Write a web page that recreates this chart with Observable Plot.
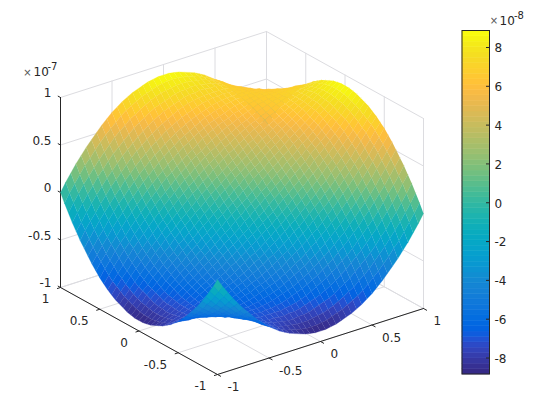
<!DOCTYPE html>
<html>
<head>
<meta charset="utf-8">
<script src="https://cdn.jsdelivr.net/npm/d3@7"></script>
<script src="https://cdn.jsdelivr.net/npm/@observablehq/plot@0.6"></script>
<style>html,body{margin:0;padding:0;background:#fff}</style>
</head>
<body>
<div id="chart"></div>
<script>
// Axis ticks
const xTicks = [-1,-0.5,0,0.5,1];
const yTicks = [-1,-0.5,0,0.5,1];
const zTicks = [-1,-0.5,0,0.5,1];
const barTicks = [-8,-6,-4,-2,0,2,4,6,8];
// Grid coordinates of the surface
const gridXs = [-1,-0.95,-0.9,-0.85,-0.8,-0.75,-0.7,-0.65,-0.6,-0.55,-0.5,-0.45,-0.4,-0.35,-0.3,-0.25,-0.2,-0.15,-0.1,-0.05,0,0.05,0.1,0.15,0.2,0.25,0.3,0.35,0.4,0.45,0.5,0.55,0.6,0.65,0.7,0.75,0.8,0.85,0.9,0.95,1];
const gridYs = [1,0.95,0.9,0.85,0.8,0.75,0.7,0.65,0.6,0.55,0.5,0.45,0.4,0.35,0.3,0.25,0.2,0.15,0.1,0.05,0,-0.05,-0.1,-0.15,-0.2,-0.25,-0.3,-0.35,-0.4,-0.45,-0.5,-0.55,-0.6,-0.65,-0.7,-0.75,-0.8,-0.85,-0.9,-0.95,-1];
// Height estimates in units of 1e-9; rows run along gridYs, columns along gridXs
const zGrid = [
[0,9,17,25,32,39,45,51,57,62,67,71,75,78,81,83,85,87,88,89,89,89,88,87,85,83,81,78,75,71,67,62,57,51,45,39,32,25,17,9,0],
[-9,0,8,16,24,30,37,43,49,54,59,64,68,71,74,77,79,81,83,84,85,85,85,84,83,81,80,77,74,71,68,64,59,54,49,44,37,31,24,17,9],
[-17,-8,0,8,15,22,29,35,41,47,52,56,61,64,68,71,74,76,78,79,80,81,81,81,80,79,78,76,74,71,69,65,61,57,53,48,42,37,30,24,17],
[-25,-16,-8,0,7,15,21,28,34,39,44,49,54,58,61,65,68,70,72,74,76,77,77,78,78,77,76,75,73,71,69,66,63,60,56,52,47,42,37,31,25],
[-32,-24,-15,-7,0,7,14,20,26,32,37,42,47,51,55,59,62,65,67,69,71,73,74,74,75,75,74,74,73,71,69,67,65,62,59,55,51,47,42,37,32],
[-39,-30,-22,-15,-7,0,7,13,19,25,31,36,40,45,49,53,56,59,62,65,67,69,70,71,72,72,72,72,72,71,70,68,66,64,61,58,55,52,48,44,39],
[-45,-37,-29,-21,-14,-7,0,6,13,18,24,29,34,39,43,47,51,54,57,60,62,64,66,68,69,70,70,71,70,70,69,68,67,65,64,61,59,56,53,49,45],
[-51,-43,-35,-28,-20,-13,-6,0,6,12,18,23,28,33,37,41,45,49,52,55,58,60,62,64,66,67,68,69,69,69,69,69,68,67,65,64,62,60,57,54,51],
[-57,-49,-41,-34,-26,-19,-13,-6,0,6,12,17,22,27,32,36,40,44,47,50,53,56,59,61,63,64,66,67,68,68,69,69,68,68,67,66,65,63,61,59,57],
[-62,-54,-47,-39,-32,-25,-18,-12,-6,0,6,11,16,21,26,30,35,39,42,46,49,52,55,57,59,61,63,65,66,67,68,68,69,69,68,68,67,66,65,64,62],
[-67,-59,-52,-44,-37,-31,-24,-18,-12,-6,0,5,11,16,20,25,29,33,37,41,45,48,51,54,56,58,61,62,64,66,67,68,69,69,69,70,69,69,69,68,67],
[-71,-64,-56,-49,-42,-36,-29,-23,-17,-11,-5,0,5,10,15,20,24,29,33,36,40,44,47,50,53,55,58,60,62,64,66,67,68,69,70,71,71,71,71,71,71],
[-75,-68,-61,-54,-47,-40,-34,-28,-22,-16,-11,-5,0,5,10,15,19,24,28,32,36,39,43,46,49,52,55,57,60,62,64,66,68,69,70,72,73,73,74,74,75],
[-78,-71,-64,-58,-51,-45,-39,-33,-27,-21,-16,-10,-5,0,5,10,14,19,23,27,31,35,39,42,46,49,52,55,57,60,62,65,67,69,71,72,74,75,76,77,78],
[-81,-74,-68,-61,-55,-49,-43,-37,-32,-26,-20,-15,-10,-5,0,5,9,14,18,23,27,31,35,38,42,45,49,52,55,58,61,63,66,68,70,72,74,76,78,80,81],
[-83,-77,-71,-65,-59,-53,-47,-41,-36,-30,-25,-20,-15,-10,-5,0,5,9,14,18,22,26,30,34,38,42,45,49,52,55,58,61,64,67,70,72,75,77,79,81,83],
[-85,-79,-74,-68,-62,-56,-51,-45,-40,-35,-29,-24,-19,-14,-9,-5,0,5,9,13,18,22,26,30,34,38,42,46,49,53,56,59,63,66,69,72,75,78,80,83,85],
[-87,-81,-76,-70,-65,-59,-54,-49,-44,-39,-33,-29,-24,-19,-14,-9,-5,0,5,9,13,18,22,26,30,34,38,42,46,50,54,57,61,64,68,71,74,78,81,84,87],
[-88,-83,-78,-72,-67,-62,-57,-52,-47,-42,-37,-33,-28,-23,-18,-14,-9,-5,0,4,9,13,18,22,26,30,35,39,43,47,51,55,59,62,66,70,74,77,81,85,88],
[-89,-84,-79,-74,-69,-65,-60,-55,-50,-46,-41,-36,-32,-27,-23,-18,-13,-9,-4,0,4,9,13,18,22,26,31,35,39,44,48,52,56,60,64,69,73,77,81,85,89],
[-89,-85,-80,-76,-71,-67,-62,-58,-53,-49,-45,-40,-36,-31,-27,-22,-18,-13,-9,-4,0,4,9,13,18,22,27,31,36,40,45,49,53,58,62,67,71,76,80,85,89],
[-89,-85,-81,-77,-73,-69,-64,-60,-56,-52,-48,-44,-39,-35,-31,-26,-22,-18,-13,-9,-4,0,4,9,13,18,23,27,32,36,41,46,50,55,60,65,69,74,79,84,89],
[-88,-85,-81,-77,-74,-70,-66,-62,-59,-55,-51,-47,-43,-39,-35,-30,-26,-22,-18,-13,-9,-4,0,5,9,14,18,23,28,33,37,42,47,52,57,62,67,72,78,83,88],
[-87,-84,-81,-78,-74,-71,-68,-64,-61,-57,-54,-50,-46,-42,-38,-34,-30,-26,-22,-18,-13,-9,-5,0,5,9,14,19,24,29,33,39,44,49,54,59,65,70,76,81,87],
[-85,-83,-80,-78,-75,-72,-69,-66,-63,-59,-56,-53,-49,-46,-42,-38,-34,-30,-26,-22,-18,-13,-9,-5,0,5,9,14,19,24,29,35,40,45,51,56,62,68,74,79,85],
[-83,-81,-79,-77,-75,-72,-70,-67,-64,-61,-58,-55,-52,-49,-45,-42,-38,-34,-30,-26,-22,-18,-14,-9,-5,0,5,10,15,20,25,30,36,41,47,53,59,65,71,77,83],
[-81,-80,-78,-76,-74,-72,-70,-68,-66,-63,-61,-58,-55,-52,-49,-45,-42,-38,-35,-31,-27,-23,-18,-14,-9,-5,0,5,10,15,20,26,32,37,43,49,55,61,68,74,81],
[-78,-77,-76,-75,-74,-72,-71,-69,-67,-65,-62,-60,-57,-55,-52,-49,-46,-42,-39,-35,-31,-27,-23,-19,-14,-10,-5,0,5,10,16,21,27,33,39,45,51,58,64,71,78],
[-75,-74,-74,-73,-73,-72,-70,-69,-68,-66,-64,-62,-60,-57,-55,-52,-49,-46,-43,-39,-36,-32,-28,-24,-19,-15,-10,-5,0,5,11,16,22,28,34,40,47,54,61,68,75],
[-71,-71,-71,-71,-71,-71,-70,-69,-68,-67,-66,-64,-62,-60,-58,-55,-53,-50,-47,-44,-40,-36,-33,-29,-24,-20,-15,-10,-5,0,5,11,17,23,29,36,42,49,56,64,71],
[-67,-68,-69,-69,-69,-70,-69,-69,-69,-68,-67,-66,-64,-62,-61,-58,-56,-54,-51,-48,-45,-41,-37,-33,-29,-25,-20,-16,-11,-5,0,6,12,18,24,31,37,44,52,59,67],
[-62,-64,-65,-66,-67,-68,-68,-69,-69,-68,-68,-67,-66,-65,-63,-61,-59,-57,-55,-52,-49,-46,-42,-39,-35,-30,-26,-21,-16,-11,-6,0,6,12,18,25,32,39,47,54,62],
[-57,-59,-61,-63,-65,-66,-67,-68,-68,-69,-69,-68,-68,-67,-66,-64,-63,-61,-59,-56,-53,-50,-47,-44,-40,-36,-32,-27,-22,-17,-12,-6,0,6,13,19,26,34,41,49,57],
[-51,-54,-57,-60,-62,-64,-65,-67,-68,-69,-69,-69,-69,-69,-68,-67,-66,-64,-62,-60,-58,-55,-52,-49,-45,-41,-37,-33,-28,-23,-18,-12,-6,0,6,13,20,28,35,43,51],
[-45,-49,-53,-56,-59,-61,-64,-65,-67,-68,-69,-70,-70,-71,-70,-70,-69,-68,-66,-64,-62,-60,-57,-54,-51,-47,-43,-39,-34,-29,-24,-18,-13,-6,0,7,14,21,29,37,45],
[-39,-44,-48,-52,-55,-58,-61,-64,-66,-68,-70,-71,-72,-72,-72,-72,-72,-71,-70,-69,-67,-65,-62,-59,-56,-53,-49,-45,-40,-36,-31,-25,-19,-13,-7,0,7,15,22,30,39],
[-32,-37,-42,-47,-51,-55,-59,-62,-65,-67,-69,-71,-73,-74,-74,-75,-75,-74,-74,-73,-71,-69,-67,-65,-62,-59,-55,-51,-47,-42,-37,-32,-26,-20,-14,-7,0,7,15,24,32],
[-25,-31,-37,-42,-47,-52,-56,-60,-63,-66,-69,-71,-73,-75,-76,-77,-78,-78,-77,-77,-76,-74,-72,-70,-68,-65,-61,-58,-54,-49,-44,-39,-34,-28,-21,-15,-7,0,8,16,25],
[-17,-24,-30,-37,-42,-48,-53,-57,-61,-65,-69,-71,-74,-76,-78,-79,-80,-81,-81,-81,-80,-79,-78,-76,-74,-71,-68,-64,-61,-56,-52,-47,-41,-35,-29,-22,-15,-8,0,8,17],
[-9,-17,-24,-31,-37,-44,-49,-54,-59,-64,-68,-71,-74,-77,-80,-81,-83,-84,-85,-85,-85,-84,-83,-81,-79,-77,-74,-71,-68,-64,-59,-54,-49,-43,-37,-30,-24,-16,-8,0,9],
[0,-9,-17,-25,-32,-39,-45,-51,-57,-62,-67,-71,-75,-78,-81,-83,-85,-87,-88,-89,-89,-89,-88,-87,-85,-83,-81,-78,-75,-71,-67,-62,-57,-51,-45,-39,-32,-25,-17,-9,0]
];
const colorLimit = 88.5;
// MATLAB parula, 64 entries
const parula = [[.2081,.1663,.5292],[.2116,.1898,.5777],[.2123,.2138,.627],[.2081,.2386,.6771],[.1959,.2645,.7279],[.1707,.2919,.7792],[.1253,.3242,.8303],[.0591,.3598,.8683],[.0117,.3875,.882],[.006,.4086,.8828],[.0165,.4266,.8786],[.0329,.443,.872],[.0498,.4586,.8641],[.0629,.4737,.8554],[.0723,.4887,.8467],[.0779,.504,.8384],[.0793,.52,.8312],[.0749,.5375,.8263],[.0641,.557,.824],[.0488,.5772,.8228],[.0343,.5966,.8199],[.0265,.6137,.8135],[.0239,.6287,.8038],[.0231,.6418,.7913],[.0228,.6535,.7768],[.0267,.6642,.7607],[.0384,.6743,.7436],[.059,.6838,.7254],[.0843,.6928,.7062],[.1133,.7015,.6859],[.1453,.7098,.6646],[.1801,.7177,.6424],[.2178,.725,.6193],[.2586,.7317,.5954],[.3022,.7376,.5712],[.3482,.7424,.5473],[.3953,.7459,.5244],[.442,.7481,.5033],[.4871,.7491,.484],[.53,.7491,.4661],[.5709,.7485,.4494],[.6099,.7473,.4337],[.6473,.7456,.4188],[.6834,.7435,.4044],[.7184,.7411,.3905],[.7525,.7384,.3768],[.7858,.7356,.3633],[.8185,.7327,.3498],[.8507,.7299,.336],[.8824,.7274,.3217],[.9139,.7258,.3063],[.945,.7261,.2886],[.9739,.7314,.2666],[.9938,.7455,.2403],[.999,.7653,.2164],[.9955,.7861,.1967],[.988,.8066,.1794],[.9789,.8271,.1633],[.9697,.8481,.1475],[.9626,.8705,.1309],[.9589,.8949,.1132],[.9598,.9218,.0948],[.9661,.9514,.0755],[.9763,.9831,.0538]];
const parulaCss = parula.map(c => `rgb(${c.map(v => Math.round(v*255)).join(",")})`);

// Orthographic view: data (x, y, z in 1e-7) to the page's plotting units
const px = (x,y) => 241.5 + 103*x - 78.5*y;
const py = (x,y,z) => 202.5 - 33*x - 43.5*y - 95*z;
const P = (x,y,z) => ({px: px(x,y), py: py(x,y,z)});
const seg = (id,a,b) => [{id,...P(...a)},{id,...P(...b)}];

// Quads, far corner first so nearer cells paint over farther ones
const quads = [];
for (let j = 0; j < gridYs.length-1; j++) {
  for (let i = gridXs.length-1; i > 0; i--) {
    const c = [[i,j],[i-1,j],[i-1,j+1],[i,j+1]];
    const v = d3.mean(c, ([a,b]) => zGrid[b][a]);
    for (const [a,b] of c) quads.push({id:`${i}-${j}`, v, ...P(gridXs[a], gridYs[b], zGrid[b][a]/100)});
  }
}

// Back walls and floor grid
let n = 0;
const grid = [];
for (const t of xTicks) {
  grid.push(...seg(n++,[t,-1,-1],[t,1,-1]), ...seg(n++,[t,1,-1],[t,1,1]));
}
for (const t of yTicks) {
  grid.push(...seg(n++,[-1,t,-1],[1,t,-1]), ...seg(n++,[1,t,-1],[1,t,1]));
}
for (const t of zTicks) {
  grid.push(...seg(n++,[-1,1,t],[1,1,t]), ...seg(n++,[1,1,t],[1,-1,t]));
}
const axes = [
  ...seg("a",[-1,1,1],[-1,1,-1]),
  ...seg("b",[-1,1,-1],[-1,-1,-1]),
  ...seg("c",[-1,-1,-1],[1,-1,-1])
];
const ticks3d = [];
xTicks.forEach(t => ticks3d.push(...seg("x"+t,[t,-1,-1],[t,-1.04,-1])));
yTicks.forEach(t => ticks3d.push(...seg("y"+t,[-1,t,-1],[-1.03,t,-1])));
zTicks.forEach(t => ticks3d.push(...seg("z"+t,[-1,1,t],[-1,1.03,t])));

// Colour bar
const barX1 = 462, barX2 = 489.5, barTop = 30.5, barBottom = 374;
const barY = d3.scaleLinear().domain([-colorLimit/10, colorLimit/10]).range([barBottom, barTop]);
const bands = parulaCss.map((c,k) => ({c,
  y1: barBottom - (barBottom-barTop)*k/64,
  y2: barBottom - (barBottom-barTop)*(k+1)/64}));

const ink = "#262626";
const fs = 12;
const label = (data, opts) => Plot.text(data, {fill: ink, fontSize: fs, ...opts});
const fmt = d => String(d);

const chart = Plot.plot({
  width: 560, height: 420, margin: 0,
  x: {domain:[0,560], range:[0,560], axis:null},
  y: {domain:[0,420], range:[0,420], axis:null},
  color: {type:"linear", domain:[-colorLimit,colorLimit], interpolate: d3.piecewise(d3.interpolateRgb, parulaCss), clamp:true},
  style: {fontFamily:"'DejaVu Sans', sans-serif", background:"#fff"},
  marks: [
    Plot.line(grid, {x:"px", y:"py", z:"id", stroke:"#dcdce0", strokeWidth:1}),
    Plot.line(axes, {x:"px", y:"py", z:"id", stroke:ink, strokeWidth:1}),
    Plot.line(ticks3d, {x:"px", y:"py", z:"id", stroke:ink, strokeWidth:1}),
    Plot.line(quads, {x:"px", y:"py", z:"id", fill:"v", stroke:"v", strokeWidth:0.25}),
    label(zTicks, {x: () => 51, y: d => py(-1,1,d) - 4, text: fmt, textAnchor:"end"}),
    label(yTicks, {x: d => px(-1,d) - 11, y: d => py(-1,d,-1) + 12, text: fmt, textAnchor:"end"}),
    label(xTicks, {x: d => px(d,-1) + 10, y: d => py(d,-1,-1) + 13, text: fmt, textAnchor:"start"}),
    label(["×"], {x: () => 27, y: () => 72, fontSize: 10, fill:"#555"}),
    label(["10"], {x: () => 33, y: () => 72, textAnchor:"start", fontSize: 12}),
    label(["-7"], {x: () => 47, y: () => 66, textAnchor:"start", fontSize: 10}),
    Plot.rect(bands, {x1: () => barX1, x2: () => barX2, y1:"y1", y2:"y2", fill:"c", stroke:"c", strokeWidth:0.5}),
    Plot.rect([0], {x1: () => barX1, x2: () => barX2, y1: () => barTop, y2: () => barBottom, stroke: ink, fill:"none", strokeWidth:1}),
    Plot.link(barTicks, {x1: () => barX2-4, x2: () => barX2, y1: d => barY(d), y2: d => barY(d), stroke: ink, strokeWidth:1}),
    label(barTicks, {x: () => 494, y: d => barY(d) + 1, text: fmt, textAnchor:"start"}),
    label(["×"], {x: () => 493.5, y: () => 20.5, fontSize: 10, fill:"#555"}),
    label(["10"], {x: () => 499, y: () => 20.5, textAnchor:"start", fontSize: 12}),
    label(["-8"], {x: () => 513.5, y: () => 15, textAnchor:"start", fontSize: 10})
  ]
});
document.getElementById("chart").append(chart);
</script>
</body>
</html>
